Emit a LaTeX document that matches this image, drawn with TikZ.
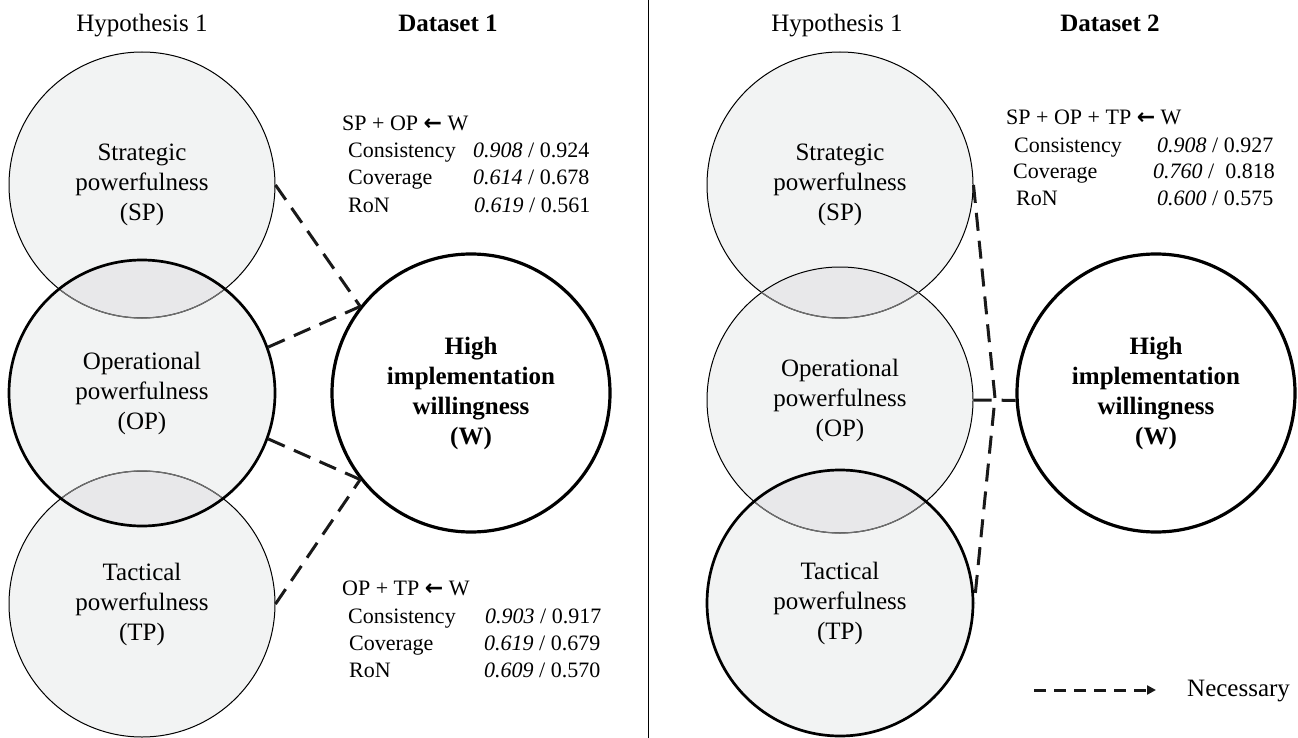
\documentclass[tikz,border=0pt]{standalone}
\usepackage{fontspec}
\setmainfont{Liberation Serif}
\newfontfamily\arrowfont{DejaVu Sans}
\usetikzlibrary{arrows.meta}
\definecolor{cfill}{RGB}{242,243,243}
\definecolor{cover}{RGB}{232,232,234}
\definecolor{arcgray}{RGB}{110,110,110}
\begin{document}
\begin{tikzpicture}[x=1pt,y=-1pt,
  venn/.style={circle, minimum size=266pt, inner sep=0pt, align=center, font=\fontsize{25}{30}\selectfont},
  thinc/.style={draw=black, line width=1pt},
  thickc/.style={draw=black, line width=2.7pt},
  target/.style={circle, draw=black, line width=3.2pt, minimum size=278pt, inner sep=0pt, align=center, font=\fontsize{25}{30}\selectfont\bfseries},
  nec/.style={dash pattern=on 18pt off 10pt, line width=3pt, draw=black!90},
  stat/.style={anchor=west, inner sep=0pt, font=\fontsize{22}{27}\selectfont, text height=15pt, text depth=5pt},
  head/.style={anchor=base, inner sep=0pt, font=\fontsize{25}{30}\selectfont}]
\useasboundingbox (0,0) rectangle (1298,738);

% fills
\foreach \p in {(142,185),(142,393),(142,604),(840,185),(840,400),(840,603)}
  \fill[cfill] \p circle (133);
\begin{scope}\clip (142,185) circle (133); \fill[cover] (142,393) circle (133);\end{scope}
\begin{scope}\clip (142,604) circle (133); \fill[cover] (142,393) circle (133);\end{scope}
\begin{scope}\clip (840,185) circle (133); \fill[cover] (840,400) circle (133);\end{scope}
\begin{scope}\clip (840,603) circle (133); \fill[cover] (840,400) circle (133);\end{scope}

% left panel circles
\node[venn, thinc] (SP1) at (142,185) {Strategic\\powerfulness\\(SP)};
\node[venn, thinc] (TP1) at (142,604) {Tactical\\powerfulness\\(TP)};
\begin{scope}\clip (142,393) circle (133);
  \draw[arcgray, line width=1.2pt] (142,185) circle (133);
  \draw[arcgray, line width=1.2pt] (142,604) circle (133);
\end{scope}
\node[venn, thickc] (OP1) at (142,393) {Operational\\powerfulness\\(OP)};

% right panel circles
\node[venn, thinc] (SP2) at (840,185) {Strategic\\powerfulness\\(SP)};
\node[venn, thinc] (OP2) at (840,400) {Operational\\powerfulness\\(OP)};
\begin{scope}\clip (840,400) circle (133);
  \draw[arcgray, line width=1.2pt] (840,185) circle (133);
\end{scope}
\begin{scope}\clip (840,603) circle (133);
  \draw[arcgray, line width=1.2pt] (840,400) circle (133);
\end{scope}
\node[venn, thickc] (TP2) at (840,603) {Tactical\\powerfulness\\(TP)};

% targets
\node[target] (W1) at (471,393) {High\\implementation\\willingness\\(W)};
\node[target] (W2) at (1156,393) {High\\implementation\\willingness\\(W)};

% headings
\node[head] (h1) at (142,32) {Hypothesis 1};
\node[head, font=\fontsize{25}{30}\selectfont\bfseries] (d1) at (448,32) {Dataset 1};
\node[head] (h2) at (837,32) {Hypothesis 1};
\node[head, font=\fontsize{25}{30}\selectfont\bfseries] (d2) at (1110,32) {Dataset 2};

% divider
\coordinate (dt) at (648,0);
\coordinate (db) at (648,738);
\draw[line width=1pt] (dt) -- (db);

% left connectors
\draw[nec] (SP1.east) -- (W1.142);
\draw[nec] (OP1.20) -- (W1.142);
\draw[nec] (OP1.-20) -- (W1.218);
\draw[nec] (TP1.east) -- (W1.218);

% right connectors
\coordinate (v) at (995,398);
\draw[nec] (SP2.east) -- (v) -- (TP2.east);
\draw[nec] (OP2.east) -- (W2.183);

% stats left top
\node[stat] (a0) at (342,126) {SP + OP {\arrowfont\bfseries ←} W};
\node[stat] (a1) at (348,153) {Consistency};
\node[stat] (a1v) at (473,153) {\textit{0.908} / 0.924};
\node[stat] (a2) at (348,180) {Coverage};
\node[stat] (a2v) at (473,180) {\textit{0.614} / 0.678};
\node[stat] (a3) at (348,207) {RoN};
\node[stat] (a3v) at (474,207) {\textit{0.619} / 0.561};

% stats left bottom
\node[stat] (b0) at (342,590) {OP + TP {\arrowfont\bfseries ←} W};
\node[stat] (b1) at (348,618) {Consistency};
\node[stat] (b1v) at (485,618) {\textit{0.903} / 0.917};
\node[stat] (b2) at (349,645) {Coverage};
\node[stat] (b2v) at (484,645) {\textit{0.619} / 0.679};
\node[stat] (b3) at (349,672) {RoN};
\node[stat] (b3v) at (484,672) {\textit{0.609} / 0.570};

% stats right
\node[stat] (c0) at (1006,120) {SP + OP + TP {\arrowfont\bfseries ←} W};
\node[stat] (c1) at (1014,148) {Consistency};
\node[stat] (c1v) at (1157,148) {\textit{0.908} / 0.927};
\node[stat] (c2) at (1013,174) {Coverage};
\node[stat] (c2v) at (1153,174) {\textit{0.760} /~ 0.818};
\node[stat] (c3) at (1016,201) {RoN};
\node[stat] (c3v) at (1157,201) {\textit{0.600} / 0.575};

% legend
\coordinate (la) at (1034,690);
\coordinate (lb) at (1156,690);
\draw[nec, dash pattern=on 12pt off 8pt, -{Triangle[length=9pt,width=9pt]}] (la) -- (lb);
\node[anchor=west, inner sep=0pt, font=\fontsize{25}{30}\selectfont, text height=17pt, text depth=5pt] (leg) at (1187,690) {Necessary};
\end{tikzpicture}
\end{document}
